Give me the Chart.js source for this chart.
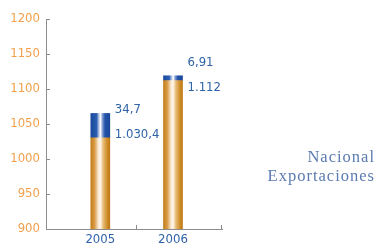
<!DOCTYPE html>
<html>
<head>
<meta charset="utf-8">
<script src="https://cdn.jsdelivr.net/npm/chart.js@4"></script>
<style>
  body { margin: 0; background: #fff; }
  #wrap { position: relative; width: 379px; height: 250px; }
  #legend { position: absolute; right: 4px; top: 147px; text-align: right;
    font-family: "Liberation Serif", serif; font-size: 16.5px; line-height: 19px;
    letter-spacing: 1px; color: #5b7bb0; }
</style>
</head>
<body>
<div id="wrap">
  <canvas id="chart" width="379" height="250"></canvas>
  <div id="legend"><div>Nacional</div><div>Exportaciones</div></div>
</div>
<script>
var categories = ["2005", "2006"];
var nacional = [1030.4, 1112];
var exportaciones = [34.7, 6.91];
var nacionalLabels = ["1.030,4", "1.112"];
var exportLabels = ["34,7", "6,91"];

var FONT = '"Liberation Sans Narrow", "DejaVu Sans Condensed", sans-serif';
var FONT_SIZE = 13;
var BAR_W = 19;

var orangeStops = [[0, "#c47e18"], [0.2, "#d99c48"], [0.4, "#f9ead4"], [0.5, "#fff8ee"],
  [0.65, "#e8bd78"], [0.85, "#cf8f2c"], [1, "#bf7914"]];
var blueStops = [[0, "#1a4a9c"], [0.3, "#2a5cb0"], [0.44, "#c4d1ec"], [0.52, "#ffffff"],
  [0.6, "#8aa2d6"], [0.75, "#2252a8"], [1, "#1a489a"]];

function barGradient(ctx, stops) {
  var chart = ctx.chart;
  var xs = chart.scales.x;
  if (ctx.type !== "data" || !xs) return stops[0][1];
  var cx = xs.getPixelForValue(ctx.dataIndex);
  if (!isFinite(cx)) return stops[0][1];
  var g = chart.ctx.createLinearGradient(cx - BAR_W / 2, 0, cx + BAR_W / 2, 0);
  stops.forEach(function (s) { g.addColorStop(s[0], s[1]); });
  return g;
}

// small inward tick marks + value labels beside the bars
var extrasPlugin = {
  id: "extras",
  afterDraw: function (chart) {
    var c = chart.ctx, xs = chart.scales.x, ys = chart.scales.y, area = chart.chartArea;
    c.save();
    c.strokeStyle = "#8c8c8c";
    c.lineWidth = 1;
    c.beginPath();
    ys.ticks.forEach(function (t) {
      if (t.value === ys.min) return;
      var y = Math.round(ys.getPixelForValue(t.value)) + 0.5;
      c.moveTo(area.left, y); c.lineTo(area.left + 4, y);
    });
    [0.5, xs.max].forEach(function (v) {
      var x = Math.round(xs.getPixelForValue(v)) - 0.5;
      c.moveTo(x, area.bottom); c.lineTo(x, area.bottom - 4);
    });
    c.stroke();

    c.fillStyle = "#2f63a8";
    c.font = FONT_SIZE + "px " + FONT;
    c.textBaseline = "middle";
    c.textAlign = "left";
    categories.forEach(function (cat, i) {
      var x = xs.getPixelForValue(i) + BAR_W / 2 + 5;
      var topN = ys.getPixelForValue(nacional[i]);
      var topE = ys.getPixelForValue(nacional[i] + exportaciones[i]);
      var mid = (topN + topE) / 2 - 3;
      c.fillText(exportLabels[i], x, mid - 12.5);
      c.fillText(nacionalLabels[i], x, mid + 12.5);
    });
    c.restore();
  }
};

var chart = new Chart(document.getElementById("chart"), {
  type: "bar",
  data: {
    datasets: [
      {
        label: "Nacional",
        data: nacional.map(function (v, i) { return { x: i, y: v }; }),
        backgroundColor: function (ctx) { return barGradient(ctx, orangeStops); },
        barThickness: BAR_W
      },
      {
        label: "Exportaciones",
        data: exportaciones.map(function (v, i) { return { x: i, y: v }; }),
        backgroundColor: function (ctx) { return barGradient(ctx, blueStops); },
        barThickness: BAR_W
      }
    ]
  },
  options: {
    responsive: false,
    animation: false,
    layout: { padding: { top: 19, right: 157, bottom: 0, left: 0 } },
    plugins: { legend: { display: false }, tooltip: { enabled: false } },
    scales: {
      x: {
        type: "linear",
        stacked: true,
        offset: false,
        min: -0.747,
        max: 1.674,
        grid: { display: false, drawTicks: false, tickLength: 0 },
        border: { display: true, color: "#8c8c8c", width: 1 },
        afterBuildTicks: function (s) {
          s.ticks = categories.map(function (c, i) { return { value: i }; });
        },
        afterFit: function (s) { s.height = 21; },
        ticks: {
          padding: 3,
          color: "#2f63a8",
          font: { family: FONT, size: FONT_SIZE },
          maxRotation: 0,
          callback: function (v) { return categories[v]; }
        }
      },
      y: {
        stacked: true,
        min: 900,
        max: 1200,
        grid: { display: false, drawTicks: false, tickLength: 0 },
        border: { display: true, color: "#8c8c8c", width: 1 },
        afterFit: function (s) { s.width = 46; },
        ticks: {
          stepSize: 50,
          padding: 6,
          color: "#f2a04c",
          font: { family: FONT, size: FONT_SIZE },
          callback: function (v) { return String(v); }
        }
      }
    }
  },
  plugins: [extrasPlugin]
});
// re-run once so the gradients are built with the final scale positions
chart.update();
</script>
</body>
</html>
